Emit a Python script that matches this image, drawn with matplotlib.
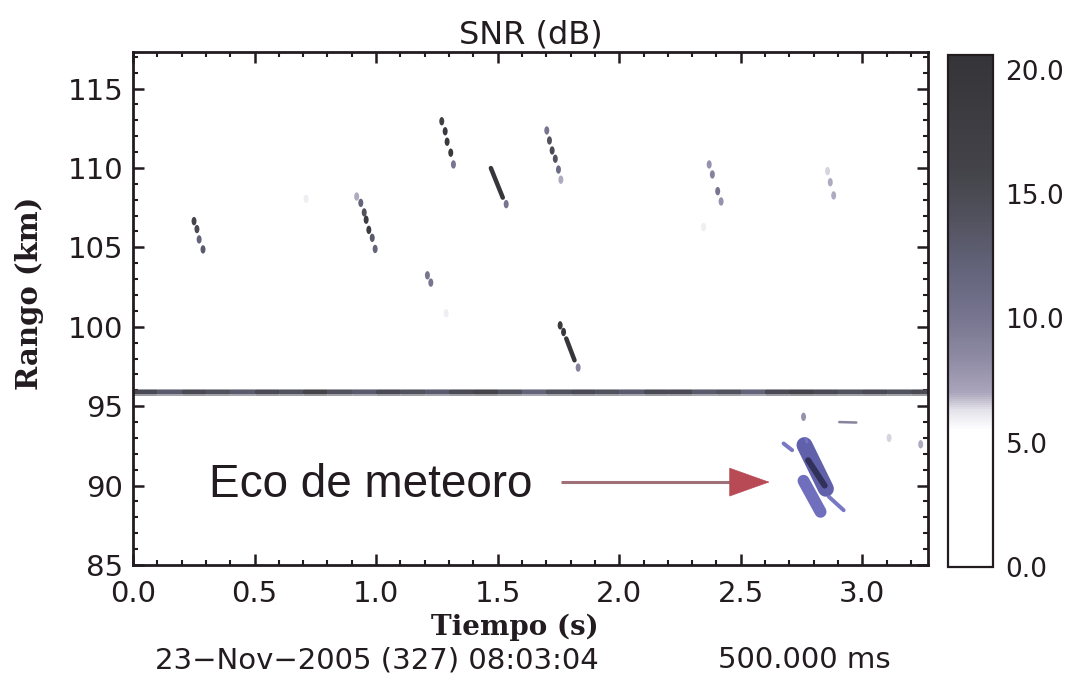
import matplotlib
matplotlib.use("Agg")
import matplotlib.pyplot as plt
import numpy as np
from matplotlib.colors import LinearSegmentedColormap, Normalize
from matplotlib.collections import LineCollection
from matplotlib.markers import MarkerStyle
from matplotlib.transforms import Affine2D
from matplotlib.patches import FancyArrowPatch
import matplotlib.cm as cm

# ---------------- data ----------------
# dotted meteor trails: time (s), range (km), SNR (dB)
dot_t = [0.251, 0.263, 0.272, 0.288,
         0.920, 0.937, 0.951, 0.959, 0.970, 0.984, 0.996,
         1.270, 1.284, 1.292, 1.307, 1.318,
         1.535,
         1.702, 1.713, 1.724, 1.737, 1.750, 1.760,
         1.757, 1.771, 1.831,
         1.211, 1.225,
         2.370, 2.383, 2.405, 2.419,
         2.857, 2.868, 2.882,
         0.712, 2.347, 1.288, 2.758, 3.110, 3.240]
dot_r = [106.65, 106.15, 105.50, 104.87,
         108.20, 107.80, 107.20, 106.74, 106.10, 105.60, 104.90,
         112.94, 112.31, 111.65, 110.96, 110.22,
         107.72,
         112.36, 111.73, 111.10, 110.58, 109.90, 109.26,
         100.09, 99.67, 97.43,
         103.24, 102.78,
         110.22, 109.59, 108.54, 107.89,
         109.80, 109.10, 108.27,
         108.06, 106.28, 100.85, 94.33, 93.00, 92.60]
dot_snr = [16, 15, 12, 13,
           7, 12, 14, 18, 18, 13, 12,
           17, 19, 19, 19, 10,
           10,
           10, 14, 15, 14, 11, 7,
           19, 20, 9,
           10, 10,
           8, 9, 10, 8,
           6.5, 7, 7,
           6, 6, 6, 8, 6.5, 7]

# continuous trail segments
seg_t0 = [1.472, 1.782, 2.905]
seg_r0 = [109.99, 99.26, 94.00]
seg_t1 = [1.521, 1.816, 2.975]
seg_r1 = [108.13, 97.89, 93.97]
seg_snr = [20, 20, 9]

# horizontal interference band at ~95.9 km (SNR per 0.1 s)
band_r = 95.9
band_t = [0.0, 0.1, 0.2, 0.3, 0.4, 0.5, 0.6, 0.7, 0.8, 0.9, 1.0, 1.1,
          1.2, 1.3, 1.4, 1.5, 1.6, 1.7, 1.8, 1.9, 2.0, 2.1, 2.2, 2.3,
          2.4, 2.5, 2.6, 2.7, 2.8, 2.9, 3.0, 3.1, 3.2, 3.27]
band_snr = [15, 13, 15, 14, 13, 15, 14, 16, 14, 13, 15, 14, 13, 15,
            16, 14, 12, 14, 15, 14, 13, 15, 15, 13, 14, 12, 15, 16,
            15, 14, 15, 14, 15]

# meteor head echo (blue cluster)
echo_t0 = [2.762, 2.758, 2.777, 2.676, 2.862, 2.768]
echo_r0 = [92.55, 90.30, 91.60, 92.65, 89.30, 92.95]
echo_t1 = [2.850, 2.828, 2.845, 2.711, 2.923, 2.772]
echo_r1 = [89.80, 88.35, 90.00, 92.23, 88.45, 92.75]
echo_snr = [12, 10, 19, 9, 9, 8]

arrow_t = [1.761, 2.630]
arrow_r = 90.22
label_t, label_r = 0.313, 90.05

cbar_ticks = [0, 5, 10, 15, 20]
x_ticks = [0.0, 0.5, 1.0, 1.5, 2.0, 2.5, 3.0]
y_ticks = [85, 90, 95, 100, 105, 110, 115]

# ---------------- style ----------------
txt = "#221b20"
vmin, vmax = 0.0, 20.6
stops = [(0.0, "#ffffff"), (5.5, "#ffffff"), (6.3, "#e4e2ea"), (7.0, "#aaa5bb"),
         (8.5, "#8d89a3"), (10.0, "#77758f"), (12.0, "#63637b"), (14.0, "#52525f"),
         (16.0, "#434349"), (20.6, "#353438")]
cmap = LinearSegmentedColormap.from_list("snr", [(v / vmax, c) for v, c in stops])
norm = Normalize(vmin, vmax)
echo_cmap = LinearSegmentedColormap.from_list(
    "echo", [(0.0, "#ffffff"), (0.3, "#8a8ad0"), (0.5, "#5c5cb4"),
             (0.7, "#40408a"), (1.0, "#26263e")])

px = 0.72  # points per pixel at 100 dpi

fig = plt.figure(figsize=(10.7, 6.76), dpi=100)
ax = fig.add_axes([133 / 1070, 1 - 565 / 676, 795 / 1070, 513 / 676])
cax = fig.add_axes([948 / 1070, 1 - 567 / 676, 45 / 1070, 512 / 676])

ax.set_xlim(0, 3.27)
ax.set_ylim(85, 117.3)

# band: soft halo + darker core
band_segs = [[(band_t[i], band_r), (band_t[i + 1], band_r)] for i in range(len(band_snr))]
ax.add_collection(LineCollection(band_segs, array=np.array(band_snr), cmap=cmap, norm=norm,
                                 linewidths=7 * px, capstyle="butt", alpha=0.55))
ax.add_collection(LineCollection(band_segs, array=np.array(band_snr), cmap=cmap, norm=norm,
                                 linewidths=4 * px, capstyle="butt"))

# continuous trails
segs = [[(a, b), (c, d)] for a, b, c, d in zip(seg_t0, seg_r0, seg_t1, seg_r1)]
ax.add_collection(LineCollection(segs, array=np.array(seg_snr), cmap=cmap, norm=norm,
                                 linewidths=[4.5 * px, 4.5 * px, 2.5 * px], capstyle="round"))

# dotted trails
mk = MarkerStyle("o", transform=Affine2D().scale(0.8, 1.35))
ax.scatter(dot_t, dot_r, c=dot_snr, cmap=cmap, norm=norm, marker=mk, s=20,
           linewidths=0, zorder=3)

# meteor echo
esegs = [[(a, b), (c, d)] for a, b, c, d in zip(echo_t0, echo_r0, echo_t1, echo_r1)]
ax.add_collection(LineCollection(esegs, array=np.array(echo_snr), cmap=echo_cmap, norm=norm,
                                 linewidths=[16 * px, 12 * px, 6 * px, 4 * px, 4 * px, 3 * px],
                                 capstyle="round", alpha=0.9, zorder=4))

# annotation
ax.plot([arrow_t[0], arrow_t[1] - 0.12], [arrow_r, arrow_r], color="#a07078",
        lw=2.2, solid_capstyle="butt", zorder=5)
ax.add_patch(FancyArrowPatch((arrow_t[1] - 0.16, arrow_r), (arrow_t[1], arrow_r),
                             arrowstyle="-|>,head_length=1.4,head_width=0.5",
                             mutation_scale=20, color="#b84a55", lw=0.5, zorder=6))
ax.text(label_t, label_r, "Eco de meteoro", family="Liberation Sans", fontsize=33,
        color=txt, ha="left", va="center", zorder=6)

# axes styling
ax.set_xticks(x_ticks)
ax.set_xticklabels([f"{v:.1f}" for v in x_ticks])
ax.set_yticks(y_ticks)
ax.set_yticklabels([str(v) for v in y_ticks])
ax.set_xticks(np.arange(0, 3.3, 0.1), minor=True)
ax.set_yticks(np.arange(85, 118, 1), minor=True)
ax.tick_params(which="both", direction="in", top=True, right=True, colors=txt)
ax.tick_params(which="major", length=8, width=1.8)
ax.tick_params(which="minor", length=3.5, width=1.5)
ax.tick_params(axis="x", which="major", pad=11, labelsize=21, labelcolor=txt)
ax.tick_params(axis="y", which="major", pad=7, labelsize=21, labelcolor=txt)
for s in ax.spines.values():
    s.set_linewidth(2.0)
    s.set_color(txt)

ax.set_title("SNR (dB)", fontsize=23, color=txt, pad=6)

# colorbar
sm = cm.ScalarMappable(norm=norm, cmap=cmap)
cb = fig.colorbar(sm, cax=cax, ticks=cbar_ticks)
cb.ax.set_yticklabels([f"{v:.1f}" for v in cbar_ticks])
cb.ax.tick_params(length=0, pad=9, labelsize=19, labelcolor=txt)
cb.outline.set_linewidth(1.6)
cb.outline.set_edgecolor(txt)

fig.text(30 / 1070, 1 - 293 / 676, "Rango (km)", rotation=90, family="DejaVu Serif",
         fontsize=21, fontweight="bold", color=txt, ha="center", va="center")
fig.text(515 / 1070, 1 - 627 / 676, "Tiempo (s)", family="DejaVu Serif",
         fontsize=20, fontweight="bold", color=txt, ha="center", va="center")
fig.text(155 / 1070, 1 - 660 / 676, "23\u2212Nov\u22122005 (327) 08:03:04",
         fontsize=21, color=txt, ha="left", va="center")
fig.text(718 / 1070, 1 - 660 / 676, "500.000 ms", fontsize=21, color=txt,
         ha="left", va="center")

fig.savefig("out.png", dpi=100, facecolor="white")
